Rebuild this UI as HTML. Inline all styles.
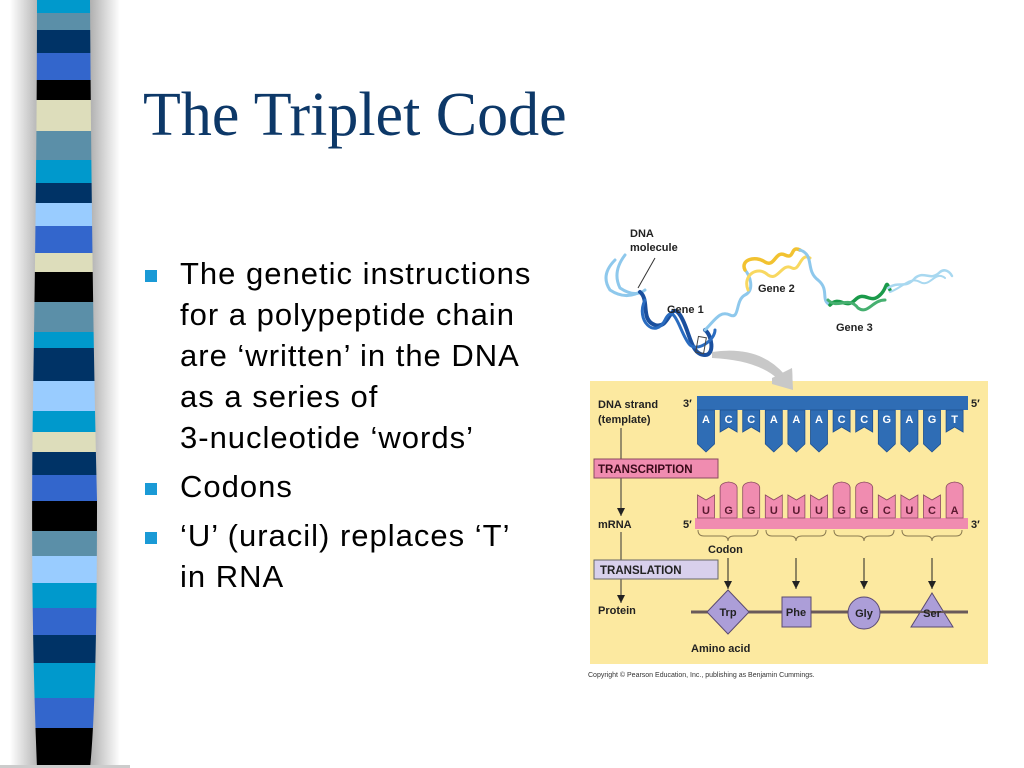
<!DOCTYPE html>
<html><head><meta charset="utf-8"><style>
html,body{margin:0;padding:0}
body{width:1024px;height:768px;position:relative;background:#fff;overflow:hidden;font-family:"Liberation Sans",sans-serif}
.t{position:absolute;left:143px;top:80px;font:62px "Liberation Serif",serif;color:#0d3868;white-space:nowrap}
.b{position:absolute;left:180px;font-size:31px;line-height:41px;color:#000;white-space:nowrap;letter-spacing:1px}
.sq{position:absolute;left:145px;width:12px;height:12px;background:#1a9ad6}
</style></head><body>
<svg width="130" height="768" style="position:absolute;left:0;top:0">
<defs><linearGradient id="sh" x1="0" x2="1"><stop offset="0" stop-color="#fff"/><stop offset="0.35" stop-color="#999"/><stop offset="0.65" stop-color="#999"/><stop offset="1" stop-color="#fff"/></linearGradient>
<clipPath id="cp"><path d="M37,0 H90 Q92,300 97,500 Q97,700 90,768 H37 Q30,600 33,400 Q37,150 37,0Z"/></clipPath></defs>
<rect x="10" y="0" width="110" height="768" fill="url(#sh)"/>
<g clip-path="url(#cp)">
<rect y="0" width="130" height="13" fill="#0099cc"/>
<rect y="13" width="130" height="17" fill="#5b8fa8"/>
<rect y="30" width="130" height="23" fill="#003366"/>
<rect y="53" width="130" height="27" fill="#3366cc"/>
<rect y="80" width="130" height="20" fill="#000"/>
<rect y="100" width="130" height="31" fill="#ddddbb"/>
<rect y="131" width="130" height="29" fill="#5b8fa8"/>
<rect y="160" width="130" height="23" fill="#0099cc"/>
<rect y="183" width="130" height="20" fill="#003366"/>
<rect y="203" width="130" height="23" fill="#99ccff"/>
<rect y="226" width="130" height="27" fill="#3366cc"/>
<rect y="253" width="130" height="19" fill="#ddddbb"/>
<rect y="272" width="130" height="30" fill="#000"/>
<rect y="302" width="130" height="30" fill="#5b8fa8"/>
<rect y="332" width="130" height="16" fill="#0099cc"/>
<rect y="348" width="130" height="33" fill="#003366"/>
<rect y="381" width="130" height="30" fill="#99ccff"/>
<rect y="411" width="130" height="21" fill="#0099cc"/>
<rect y="432" width="130" height="20" fill="#ddddbb"/>
<rect y="452" width="130" height="23" fill="#003366"/>
<rect y="475" width="130" height="26" fill="#3366cc"/>
<rect y="501" width="130" height="30" fill="#000"/>
<rect y="531" width="130" height="25" fill="#5b8fa8"/>
<rect y="556" width="130" height="27" fill="#99ccff"/>
<rect y="583" width="130" height="25" fill="#0099cc"/>
<rect y="608" width="130" height="27" fill="#3366cc"/>
<rect y="635" width="130" height="28" fill="#003366"/>
<rect y="663" width="130" height="35" fill="#0099cc"/>
<rect y="698" width="130" height="30" fill="#3366cc"/>
<rect y="728" width="130" height="40" fill="#000"/>
</g>
<rect x="0" y="765" width="130" height="3" fill="#ccc"/>
</svg>
<div class="t">The Triplet Code</div>
<div class="sq" style="top:270px"></div>
<div class="sq" style="top:483px"></div>
<div class="sq" style="top:532px"></div>
<div class="b" style="top:253px">The genetic instructions<br>for a polypeptide chain<br>are ‘written’ in the DNA<br>as a series of<br>3-nucleotide ‘words’</div>
<div class="b" style="top:466px">Codons</div>
<div class="b" style="top:515px">‘U’ (uracil) replaces ‘T’<br>in RNA</div>

<svg width="1024" height="768" style="position:absolute;left:0;top:0" font-family="Liberation Sans, sans-serif" font-weight="bold">
<defs>
<path id="dl" d="M0,0 V34 L8.5,42 L17,34 V0Z" fill="#2f6db5" stroke="#1d4f8f" stroke-width="0.8"/>
<path id="ds" d="M0,0 V22 L8.5,17 L17,22 V0Z" fill="#2f6db5" stroke="#1d4f8f" stroke-width="0.8"/>
<path id="rl" d="M0,0 V-30 Q0,-35 8.5,-36 Q17,-35 17,-30 V0Z" fill="#f08cb0" stroke="#8a4a60" stroke-width="0.8"/>
<path id="rs" d="M0,0 V-23 L8.5,-18 L17,-23 V0Z" fill="#f08cb0" stroke="#8a4a60" stroke-width="0.8"/>
<marker id="ar" markerWidth="9" markerHeight="9" refX="8" refY="4" orient="auto" markerUnits="userSpaceOnUse"><path d="M0,0 L8,4 L0,8Z" fill="#222"/></marker>
</defs>
<g fill="none" stroke-linecap="round">
<path d="M615,260 Q600,275 610,290 Q625,300 640,292" stroke="#8ec8ec" stroke-width="3"/>
<path d="M625,255 Q612,272 620,288 Q635,298 645,290" stroke="#8ec8ec" stroke-width="3"/>
<path d="M640,292 C650,300 640,320 655,325 C670,330 670,300 680,315 C690,330 690,355 705,355 C715,355 712,335 705,330" stroke="#1a4f9e" stroke-width="4"/>
<path d="M645,300 C635,320 655,340 665,320 C675,300 680,335 690,345 C698,352 715,340 715,330" stroke="#2a6cc0" stroke-width="3"/>
<path d="M705,330 C715,320 720,310 730,315 C740,320 735,300 745,295 C755,290 750,275 745,270" stroke="#8ec8ec" stroke-width="3"/>
<path d="M745,270 C740,260 755,255 765,262 C775,268 775,250 785,255 C795,260 790,245 800,250" stroke="#f2c230" stroke-width="3.5"/>
<path d="M748,290 C742,275 758,265 768,275 C778,282 782,262 792,268 C800,272 800,252 810,258" stroke="#f8d860" stroke-width="3"/>
<path d="M800,250 C815,255 805,270 818,280 C830,290 820,300 830,305" stroke="#8ec8ec" stroke-width="3"/>
<path d="M830,305 C840,295 845,310 855,300 C865,290 870,305 880,295 C888,288 885,278 890,290" stroke="#1a9a4a" stroke-width="3.5"/>
<path d="M828,300 C838,310 848,295 858,308 C868,315 872,300 885,300" stroke="#46b070" stroke-width="3"/>
<path d="M888,288 C900,280 905,290 915,278 C925,270 930,282 940,272 C945,268 950,272 952,276" stroke="#a8d8f0" stroke-width="2.5"/>
<path d="M890,292 C902,288 910,276 920,282 C930,288 935,270 945,278" stroke="#a8d8f0" stroke-width="2"/>
</g>
<line x1="638" y1="288" x2="655" y2="258" stroke="#333" stroke-width="1"/>
<rect x="697" y="337" width="8" height="16" fill="none" stroke="#444" stroke-width="1" transform="rotate(10 701 345)"/>
<path d="M712,352 Q760,345 785,375 L792,368 L793,390 L772,384 L779,380 Q758,360 712,358Z" fill="#c8c8c8"/>
<text font-size="11" fill="#222"><tspan x="630" y="237">DNA</tspan><tspan x="630" y="251">molecule</tspan></text>
<text x="667" y="313" font-size="11" fill="#222">Gene 1</text>
<text x="758" y="292" font-size="11" fill="#222">Gene 2</text>
<text x="836" y="331" font-size="11" fill="#222">Gene 3</text>
<rect x="590" y="381" width="398" height="283" fill="#fce9a0"/>
<path d="M772,378 L792,368 L793,390 L772,384Z" fill="#c8c8c8"/>
<rect x="697" y="396" width="271" height="14" fill="#2f6db5"/>
<g transform="translate(0,410)">
<use href="#dl" x="697.5"/><use href="#ds" x="720.1"/><use href="#ds" x="742.7"/><use href="#dl" x="765.3"/><use href="#dl" x="787.9"/><use href="#dl" x="810.5"/><use href="#ds" x="833.1"/><use href="#ds" x="855.7"/><use href="#dl" x="878.3"/><use href="#dl" x="900.9"/><use href="#dl" x="923.5"/><use href="#ds" x="946.1"/>
</g>
<g font-size="11" fill="#fff" text-anchor="middle">
<text x="706" y="423">A</text><text x="728.6" y="423">C</text><text x="751.2" y="423">C</text><text x="773.8" y="423">A</text><text x="796.4" y="423">A</text><text x="819" y="423">A</text><text x="841.6" y="423">C</text><text x="864.2" y="423">C</text><text x="886.8" y="423">G</text><text x="909.4" y="423">A</text><text x="932" y="423">G</text><text x="954.6" y="423">T</text>
</g>
<rect x="695" y="518" width="273" height="11" fill="#f08cb0"/>
<g transform="translate(0,518)">
<use href="#rs" x="697.5"/><use href="#rl" x="720.1"/><use href="#rl" x="742.7"/><use href="#rs" x="765.3"/><use href="#rs" x="787.9"/><use href="#rs" x="810.5"/><use href="#rl" x="833.1"/><use href="#rl" x="855.7"/><use href="#rs" x="878.3"/><use href="#rs" x="900.9"/><use href="#rs" x="923.5"/><use href="#rl" x="946.1"/>
</g>
<g font-size="11" fill="#5a1a30" text-anchor="middle">
<text x="706" y="514">U</text><text x="728.6" y="514">G</text><text x="751.2" y="514">G</text><text x="773.8" y="514">U</text><text x="796.4" y="514">U</text><text x="819" y="514">U</text><text x="841.6" y="514">G</text><text x="864.2" y="514">G</text><text x="886.8" y="514">C</text><text x="909.4" y="514">U</text><text x="932" y="514">C</text><text x="954.6" y="514">A</text>
</g>
<g fill="none" stroke="#8a7a50" stroke-width="1">
<path d="M698,530 q0,6 6,6 h18 q6,0 6,5 q0,-5 6,-5 h18 q6,0 6,-6"/>
<path d="M766,530 q0,6 6,6 h18 q6,0 6,5 q0,-5 6,-5 h18 q6,0 6,-6"/>
<path d="M834,530 q0,6 6,6 h18 q6,0 6,5 q0,-5 6,-5 h18 q6,0 6,-6"/>
<path d="M902,530 q0,6 6,6 h18 q6,0 6,5 q0,-5 6,-5 h18 q6,0 6,-6"/>
</g>
<g font-size="11" fill="#222">
<text x="683" y="407">3′</text><text x="971" y="407">5′</text>
<text x="683" y="528">5′</text><text x="971" y="528">3′</text>
<text x="598" y="408">DNA strand</text><text x="598" y="423">(template)</text>
<text x="598" y="528">mRNA</text><text x="598" y="614">Protein</text>
<text x="708" y="553">Codon</text><text x="691" y="652">Amino acid</text>
</g>
<line x1="621" y1="428" x2="621" y2="459" stroke="#333"/>
<line x1="621" y1="478" x2="621" y2="516" stroke="#333" marker-end="url(#ar)"/>
<line x1="621" y1="532" x2="621" y2="560" stroke="#333"/>
<line x1="621" y1="579" x2="621" y2="603" stroke="#333" marker-end="url(#ar)"/>
<rect x="594" y="459" width="124" height="19" fill="#f08cb0" stroke="#8a4a60"/>
<text x="598" y="473" font-size="11.5" fill="#3a0a1a" font-weight="900">TRANSCRIPTION</text>
<rect x="594" y="560" width="124" height="19" fill="#d8d0ec" stroke="#666"/>
<text x="600" y="574" font-size="11.5" fill="#222" font-weight="900">TRANSLATION</text>
<g stroke="#222" stroke-width="1">
<line x1="728" y1="558" x2="728" y2="589" marker-end="url(#ar)"/>
<line x1="796" y1="558" x2="796" y2="589" marker-end="url(#ar)"/>
<line x1="864" y1="558" x2="864" y2="589" marker-end="url(#ar)"/>
<line x1="932" y1="558" x2="932" y2="589" marker-end="url(#ar)"/>
</g>
<line x1="691" y1="612" x2="968" y2="612" stroke="#6a5a5a" stroke-width="3"/>
<g fill="#ac9ed8" stroke="#5a4a70" stroke-width="1">
<path d="M728,590 L749,612 L728,634 L707,612Z"/>
<rect x="782" y="597" width="29" height="30"/>
<circle cx="864" cy="613" r="16"/>
<path d="M932,593 L953,627 L911,627Z"/>
</g>
<line x1="911" y1="612" x2="953" y2="612" stroke="#6a5a5a" stroke-width="2"/>
<g font-size="11" fill="#222" text-anchor="middle">
<text x="728" y="616">Trp</text><text x="796" y="616">Phe</text><text x="864" y="617">Gly</text><text x="932" y="617">Ser</text>
</g>
<text x="588" y="677" font-size="7" font-weight="normal" fill="#333">Copyright © Pearson Education, Inc., publishing as Benjamin Cummings.</text>
</svg>
</body></html>
